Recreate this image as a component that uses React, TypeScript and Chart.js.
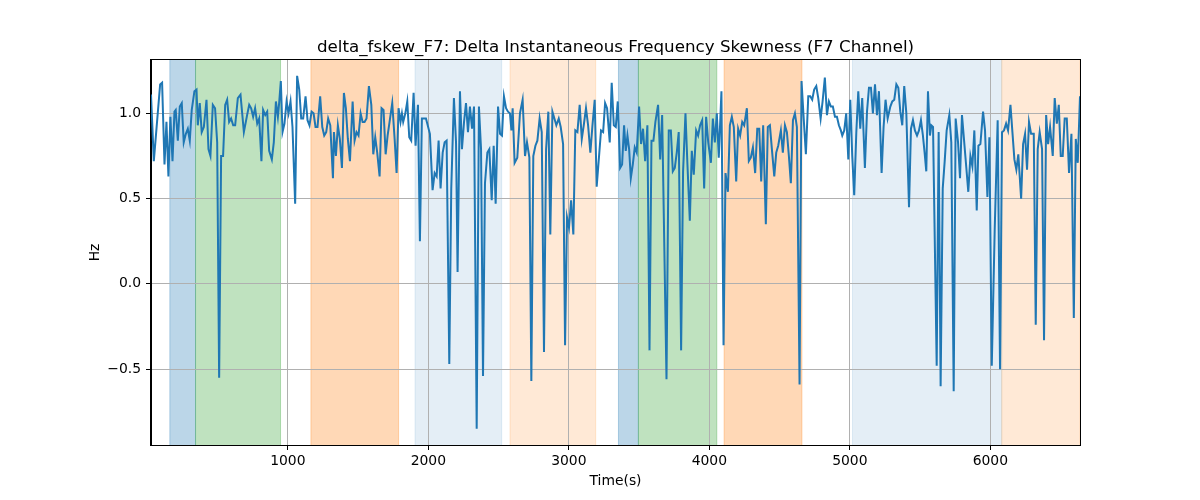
import { useEffect, useRef } from 'react';
import { Chart, registerables } from 'chart.js';

Chart.register(...registerables);

const TITLE = 'delta_fskew_F7: Delta Instantaneous Frequency Skewness (F7 Channel)';
const X_LABEL = 'Time(s)';
const Y_LABEL = 'Hz';

const X_MIN = 26;
const X_MAX = 6638;
const Y_MIN = -0.945;
const Y_MAX = 1.313;

const xTicks = [1000, 2000, 3000, 4000, 5000, 6000];
const yTicks = [-0.5, 0.0, 0.5, 1.0];

const spanStarts = [160, 343, 1164, 1905, 2581, 3353, 3495, 4105, 5019, 6081];
const spanEnds = [343, 948, 1788, 2522, 3191, 3495, 4053, 4659, 6081, 6638];
const spanColors = [
  'rgba(31,119,180,0.3)',
  'rgba(44,160,44,0.3)',
  'rgba(255,127,14,0.3)',
  'rgba(31,119,180,0.12)',
  'rgba(255,127,14,0.17)',
  'rgba(31,119,180,0.3)',
  'rgba(44,160,44,0.3)',
  'rgba(255,127,14,0.3)',
  'rgba(31,119,180,0.12)',
  'rgba(255,127,14,0.17)',
];

const times = [
  26, 46, 69, 91, 105, 122, 136, 150, 164, 179, 193, 202, 217, 231, 245, 259, 274, 288, 302, 316, 335, 350, 359, 373, 387, 402, 421, 435, 449, 466, 482, 497, 511, 525, 539, 554, 568, 582, 596, 611, 625, 644, 663, 687,
  710, 725, 739, 753, 767, 782, 796, 812, 824, 839, 853, 867, 886, 900, 915, 929, 938, 950, 962, 976, 991, 1005, 1019, 1033, 1052, 1066, 1081, 1095, 1109, 1126, 1140, 1154, 1169, 1183, 1197, 1211, 1230, 1245, 1259, 1273, 1287, 1302, 1321,
  1328, 1342, 1356, 1370, 1385, 1399, 1413, 1427, 1442, 1461, 1475, 1489, 1503, 1518, 1532, 1546, 1560, 1577, 1594, 1608, 1622, 1636, 1653, 1667, 1681, 1696, 1710, 1724, 1743, 1760, 1774, 1788, 1802, 1812, 1821, 1836, 1850, 1864, 1878, 1895, 1909, 1926, 1940, 1954, 1969, 1983,
  2011, 2030, 2045, 2059, 2073, 2087, 2102, 2116, 2130, 2149, 2163, 2182, 2197, 2208, 2225, 2239, 2254, 2268, 2282, 2296, 2311, 2325, 2344, 2360, 2375, 2389, 2403, 2420, 2434, 2451, 2465, 2479, 2496, 2510, 2524, 2538, 2553, 2567, 2581, 2591, 2600, 2614, 2633,
  2652, 2671, 2688, 2702, 2719, 2733, 2747, 2762, 2776, 2792, 2807, 2823, 2838, 2854, 2868, 2883, 2897, 2911, 2928, 2942, 2959, 2973, 2987, 3001, 3016, 3032, 3046, 3061, 3077, 3092, 3106, 3122, 3137, 3153, 3168, 3184, 3198, 3215, 3229, 3244, 3258, 3272, 3291, 3305,
  3320, 3334, 3348, 3365, 3379, 3393, 3405, 3417, 3429, 3441, 3455, 3469, 3483, 3500, 3514, 3528, 3543, 3559, 3574, 3588, 3602, 3616, 3635, 3650, 3664, 3695, 3711, 3726, 3740, 3754, 3768, 3782, 3799, 3813, 3830, 3844, 3861, 3875, 3889, 3906, 3920, 3934, 3949, 3963,
  3977, 3992, 4011, 4025, 4039, 4053, 4067, 4086, 4101, 4115, 4132, 4146, 4160, 4174, 4191, 4205, 4219, 4234, 4248, 4267, 4281, 4295, 4310, 4326, 4341, 4355, 4369, 4383, 4402, 4416, 4431, 4445, 4462, 4476, 4490, 4509, 4523, 4538, 4552, 4566, 4580, 4595, 4609,
  4623, 4642, 4656, 4670, 4687, 4704, 4718, 4732, 4746, 4761, 4775, 4792, 4806, 4822, 4837, 4851, 4865, 4879, 4894, 4908, 4922, 4936, 4946, 4960, 4974, 4989, 5003, 5017, 5031, 5046, 5060, 5074, 5088, 5107, 5122, 5136, 5150, 5164, 5179, 5193, 5207, 5226, 5240, 5254, 5269,
  5288, 5302, 5316, 5331, 5345, 5359, 5373, 5387, 5402, 5421, 5435, 5449, 5463, 5478, 5492, 5506, 5520, 5532, 5544, 5556, 5570, 5580, 5592, 5618, 5632, 5646, 5661, 5675, 5689, 5708, 5722, 5739, 5753, 5770, 5784, 5798, 5812, 5827, 5843, 5858, 5872, 5886, 5903,
  5915, 5929, 5948, 5962, 5979, 5993, 6010, 6031, 6052, 6069, 6083, 6097, 6112, 6126, 6143, 6157, 6171, 6185, 6199, 6219, 6233, 6247, 6261, 6275, 6290, 6309, 6323, 6337, 6351, 6368, 6382, 6397, 6411, 6425, 6444, 6458, 6473, 6487, 6501, 6515, 6529, 6544, 6560, 6577, 6594, 6608, 6622, 6638,
];

const values = [
  1.11, 0.72, 0.95, 1.17, 1.18, 0.70, 0.95, 0.63, 0.98, 0.72, 1.01, 1.02, 0.84, 1.04, 1.06, 0.83, 0.88, 0.91, 0.84, 1.02, 1.13, 1.14, 0.93, 1.06, 0.89, 0.92, 1.08, 0.79, 0.75, 1.05, 1.03, 0.83, -0.55, 0.75, 0.75, 1.05, 1.08, 0.95, 0.97, 0.93, 0.93, 1.09, 1.11, 0.89,
  0.99, 1.05, 1.03, 0.98, 1.03, 0.94, 0.97, 0.72, 1.02, 0.99, 1.01, 0.78, 0.73, 0.83, 1.07, 0.98, 1.06, 1.19, 0.89, 0.94, 1.07, 1.00, 1.07, 0.92, 0.47, 1.22, 1.14, 0.97, 0.97, 1.10, 0.96, 0.93, 1.01, 1.00, 0.92, 0.92, 1.10, 0.92, 0.87, 0.89, 0.97, 0.93, 0.62,
  0.89, 0.75, 0.93, 0.85, 0.68, 1.12, 1.03, 0.85, 0.72, 1.07, 0.84, 0.89, 0.87, 1.00, 0.95, 0.95, 0.97, 1.16, 1.05, 0.76, 0.86, 0.77, 0.63, 1.03, 1.02, 0.76, 0.87, 0.95, 1.06, 0.85, 0.65, 1.03, 0.95, 1.00, 0.95, 1.00, 1.07, 0.86, 0.84, 1.12, 0.81, 1.05, 0.25, 0.97, 0.97, 0.97,
  0.88, 0.55, 0.65, 0.63, 0.84, 0.56, 0.77, 0.83, 0.84, -0.47, 0.56, 1.09, 0.83, 0.07, 1.13, 0.79, 0.95, 1.06, 0.89, 1.04, 0.91, 1.04, -0.85, 1.04, 0.79, -0.54, 0.59, 0.77, 0.79, 0.49, 0.81, 0.47, 1.04, 0.88, 0.87, 1.10, 1.03, 1.01, 1.00, 0.90, 1.03, 0.71, 0.74,
  1.00, 1.08, 0.75, 0.83, 0.74, -0.57, 0.75, 0.81, 0.84, 0.97, 0.89, -0.40, 0.79, 1.01, 0.29, 1.01, 0.97, 0.93, 0.97, 0.92, 0.82, -0.36, 0.39, 0.33, 0.49, 0.29, 0.90, 0.89, 1.05, 0.85, 0.93, 1.03, 0.93, 0.77, 0.93, 1.08, 0.57, 0.75, 0.90, 0.89, 1.06, 1.03, 0.83, 1.18,
  0.93, 0.92, 1.07, 0.68, 0.70, 0.93, 0.78, 0.87, 0.79, 0.62, 0.70, 0.80, 0.77, 1.04, 0.82, 0.91, 0.72, 0.93, -0.39, 0.84, 0.84, 0.95, 1.05, 0.73, 0.99, -0.56, 0.90, 0.90, 0.66, 0.68, 0.77, 0.89, -0.39, 0.66, 1.00, 0.70, 0.37, 0.78, 0.64, 0.90, 0.87, 0.93, 0.96, 0.56,
  0.98, 0.83, 0.71, 0.97, 0.83, 1.00, 0.74, 1.13, -0.36, 0.65, 0.54, 0.93, 0.98, 0.92, 0.60, 0.91, 0.87, 0.95, 0.93, 1.03, 0.72, 0.74, 0.80, 0.65, 0.91, 0.91, 0.60, 0.93, 0.35, 0.92, 0.93, 0.79, 0.63, 0.77, 0.81, 0.90, 0.77, 0.93, 0.89, 0.75, 0.59, 0.96, 1.00,
  0.92, -0.59, 1.19, 0.99, 0.76, 1.10, 1.10, 1.08, 1.14, 1.16, 1.09, 0.97, 1.07, 1.21, 0.99, 1.07, 1.04, 1.04, 0.98, 0.98, 0.93, 0.90, 0.87, 0.90, 1.00, 0.73, 1.08, 0.75, 0.52, 0.89, 1.13, 0.91, 1.09, 0.68, 1.01, 1.15, 1.15, 1.00, 1.17, 0.99, 1.13, 0.65, 0.92, 1.08, 0.97,
  1.04, 1.07, 1.08, 1.17, 1.15, 1.01, 0.93, 1.16, 1.00, 0.45, 0.91, 0.96, 0.90, 0.87, 0.90, 0.96, 0.87, 0.77, 0.66, 1.13, 0.87, 0.93, 0.92, -0.48, 0.89, -0.60, 0.56, 0.72, 0.90, 0.99, 0.83, -0.63, 0.97, 0.83, 0.62, 0.99, 0.85, 0.70, 0.54, 0.75, 0.69, 0.90, 0.43,
  0.81, 0.82, 1.01, 0.90, 0.51, 0.86, -0.48, 0.32, 0.96, -0.50, 0.89, 0.90, 0.94, 0.90, 1.05, 0.89, 0.73, 0.67, 0.76, 0.50, 0.82, 0.88, 0.67, 0.95, 0.88, 0.88, -0.24, 0.79, 0.89, 0.79, -0.33, 0.99, 0.82, 0.92, 0.75, 1.09, 0.94, 1.05, 0.75, 0.75, 0.97, 0.97, 0.65, 0.88, -0.20, 0.85, 0.71, 1.10,
];

const FONT = "'DejaVu Sans', 'Liberation Sans', sans-serif";

export default function App() {
  const ref = useRef<HTMLCanvasElement>(null);

  useEffect(() => {
    if (!ref.current) return;

    const decorPlugin = {
      id: 'decor',
      beforeDraw(chart: any) {
        const { ctx, chartArea, scales } = chart;
        const xs = scales.x;
        ctx.save();
        ctx.beginPath();
        ctx.rect(chartArea.left, chartArea.top, chartArea.right - chartArea.left, chartArea.bottom - chartArea.top);
        ctx.clip();
        for (let i = 0; i < spanStarts.length; i++) {
          const x0 = xs.getPixelForValue(spanStarts[i]);
          const x1 = xs.getPixelForValue(spanEnds[i]);
          ctx.fillStyle = spanColors[i];
          ctx.fillRect(x0, chartArea.top, x1 - x0, chartArea.bottom - chartArea.top);
          ctx.strokeStyle = spanColors[i];
          ctx.lineWidth = 1;
          ctx.beginPath();
          ctx.moveTo(x0, chartArea.top);
          ctx.lineTo(x0, chartArea.bottom);
          ctx.moveTo(x1, chartArea.top);
          ctx.lineTo(x1, chartArea.bottom);
          ctx.stroke();
        }
        ctx.restore();
      },
      afterDraw(chart: any) {
        const { ctx, chartArea } = chart;
        ctx.save();
        ctx.strokeStyle = '#000';
        ctx.lineWidth = 1;
        ctx.strokeRect(
          Math.round(chartArea.left) - 0.5,
          Math.round(chartArea.top) - 0.5,
          Math.round(chartArea.right - chartArea.left) + 1,
          Math.round(chartArea.bottom - chartArea.top) + 1
        );
        const cx = (chartArea.left + chartArea.right) / 2;
        ctx.fillStyle = '#000';
        ctx.textAlign = 'center';
        ctx.font = `16.7px ${FONT}`;
        ctx.textBaseline = 'alphabetic';
        ctx.fillText(TITLE, cx, 52);
        ctx.font = `13.9px ${FONT}`;
        ctx.textBaseline = 'middle';
        ctx.fillText(X_LABEL, cx, 481);
        ctx.translate(95, (chartArea.top + chartArea.bottom) / 2);
        ctx.rotate(-Math.PI / 2);
        ctx.fillText(Y_LABEL, 0, 0);
        ctx.restore();
      },
    };

    const chart = new Chart(ref.current, {
      type: 'line',
      data: {
        datasets: [
          {
            data: times.map((t, i) => ({ x: t, y: values[i] })),
            borderColor: '#1f77b4',
            borderWidth: 2,
            pointRadius: 0,
            tension: 0,
            fill: false,
          },
        ],
      },
      options: {
        animation: false,
        responsive: true,
        maintainAspectRatio: false,
        layout: { padding: { top: 60, right: 120, bottom: 0, left: 0 } },
        plugins: {
          legend: { display: false },
          tooltip: { enabled: false },
          title: { display: false },
        },
        scales: {
          x: {
            type: 'linear',
            min: X_MIN,
            max: X_MAX,
            afterBuildTicks: (s: any) => {
              s.ticks = xTicks.map((v) => ({ value: v }));
            },
            afterFit: (s: any) => {
              s.height = 55;
            },
            grid: { color: '#b0b0b0', lineWidth: 1, tickColor: '#000', tickLength: 5, drawTicks: true },
            border: { display: true, color: '#000', width: 1 },
            ticks: {
              color: '#000',
              font: { family: FONT, size: 13.9 },
              padding: 3,
              maxRotation: 0,
              autoSkip: false,
              callback: (v: any) => String(v),
            },
          },
          y: {
            type: 'linear',
            min: Y_MIN,
            max: Y_MAX,
            afterBuildTicks: (s: any) => {
              s.ticks = yTicks.map((v) => ({ value: v }));
            },
            afterFit: (s: any) => {
              s.width = 151;
            },
            grid: { color: '#b0b0b0', lineWidth: 1, tickColor: '#000', tickLength: 5, drawTicks: true },
            border: { display: true, color: '#000', width: 1 },
            ticks: {
              color: '#000',
              font: { family: FONT, size: 13.9 },
              padding: 5,
              autoSkip: false,
              callback: (v: any) => Number(v).toFixed(1).replace('-', '\u2212'),
            },
          },
        },
      },
      plugins: [decorPlugin],
    } as any);

    return () => chart.destroy();
  }, []);

  return (
    <div style={{ position: 'absolute', left: 0, top: 0, width: 1200, height: 500, background: '#fff' }}>
      <canvas ref={ref} />
    </div>
  );
}
